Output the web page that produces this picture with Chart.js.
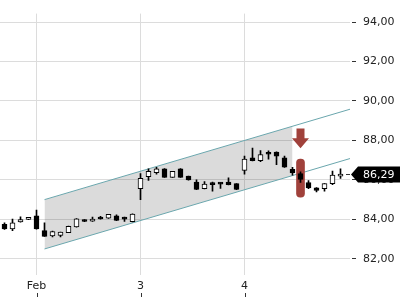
<!DOCTYPE html>
<html lang="en">
<head>
<meta charset="UTF-8">
<title>Candles with channel</title>
<script src="https://cdn.jsdelivr.net/npm/chart.js"></script>
<style>
  html, body { margin: 0; padding: 0; background: #fff; }
  #wrap { width: 400px; height: 300px; }
</style>
</head>
<body>
<div id="wrap"><canvas id="chart"></canvas></div>
<script>
// hourly candles, index 0..42
const opens  = [83.75, 83.51, 83.87, 84.00, 84.18, 83.43, 83.16, 83.19, 83.33, 83.62, 83.98, 83.91, 84.11, 84.06, 84.18, 84.03, 83.88,
                85.55, 86.16, 86.37, 86.56, 86.13, 86.56, 86.19, 85.89, 85.55, 85.77, 85.80, 85.89, 85.81,
                86.48, 87.12, 86.97, 87.32, 87.41, 87.12, 86.53, 86.32, 85.87, 85.60, 85.55, 85.81, 86.19];
const highs  = [83.83, 84.02, 84.13, 84.03, 84.47, 83.83, 83.41, 83.36, 83.66, 84.04, 83.99, 84.11, 84.15, 84.26, 84.23, 84.11, 84.28,
                86.32, 86.56, 86.64, 86.57, 86.44, 86.57, 86.20, 86.00, 85.92, 85.89, 85.87, 86.11, 85.82,
                87.21, 87.61, 87.49, 87.48, 87.42, 87.21, 86.64, 86.41, 85.97, 85.61, 85.82, 86.45, 86.56];
const lows   = [83.49, 83.43, 83.86, 83.99, 83.50, 83.13, 83.11, 83.11, 83.32, 83.61, 83.88, 83.90, 84.01, 84.05, 83.94, 83.89, 83.87,
                85.00, 85.97, 86.29, 86.12, 86.12, 86.12, 85.99, 85.51, 85.54, 85.43, 85.57, 85.75, 85.51,
                86.29, 86.96, 86.93, 87.05, 86.77, 86.63, 86.24, 85.87, 85.55, 85.39, 85.43, 85.76, 86.08];
const closes = [83.51, 83.83, 83.99, 84.02, 83.51, 83.14, 83.38, 83.35, 83.65, 84.03, 83.89, 84.02, 84.02, 84.25, 83.95, 84.01, 84.27,
                86.08, 86.43, 86.56, 86.13, 86.43, 86.13, 86.00, 85.52, 85.79, 85.76, 85.79, 85.76, 85.52,
                87.06, 86.97, 87.29, 87.30, 87.20, 86.64, 86.35, 86.03, 85.60, 85.47, 85.81, 86.24, 86.29];

// x axis: first candle of each day
const dayIndex  = [4, 17, 30];
const dayLabels = ['Feb', '3', '4'];

const priceTicks = [82, 84, 86, 88, 90, 92, 94];

// trend channel: start, end of shading, end of lines
const channelX      = [5, 36, 44];
const channelTop    = [85.00, 88.72, 89.68];
const channelBottom = [82.50, 86.22, 87.18];

// sell signal
const signalIndex = 37;
const signalRange = [85.12, 87.05];
const arrowRange  = [88.60, 87.60];

const signalColor = '#a0413b';
const teal = '#6aa6ad';

const fmt = v => v.toFixed(2).replace('.', ',');

const bodies = opens.map((o, i) => ({ x: i, y: [o, closes[i]] }));
const wicks  = opens.map((o, i) => ({ x: i, y: [lows[i], highs[i]] }));
const bodyColors = opens.map((o, i) => closes[i] >= o ? '#fff' : '#000');

// arrow, x tick marks and last price tag
const extras = {
    id: 'extras',
    afterDatasetsDraw(chart) {
        const { ctx, scales: { x, y } } = chart;
        const px = x.getPixelForValue(signalIndex);
        const yTop = y.getPixelForValue(arrowRange[0]);
        const yTip = y.getPixelForValue(arrowRange[1]);
        ctx.save();
        ctx.fillStyle = signalColor;
        ctx.beginPath();
        ctx.moveTo(px - 4, yTop);
        ctx.lineTo(px + 4, yTop);
        ctx.lineTo(px + 4, yTip - 10);
        ctx.lineTo(px + 8.5, yTip - 10);
        ctx.lineTo(px, yTip);
        ctx.lineTo(px - 8.5, yTip - 10);
        ctx.lineTo(px - 4, yTip - 10);
        ctx.closePath();
        ctx.fill();
        ctx.restore();
    },
    afterDraw(chart) {
        const { ctx, scales: { x, y }, chartArea } = chart;
        ctx.save();
        ctx.strokeStyle = '#333';
        ctx.lineWidth = 1;
        x.ticks.forEach(t => {
            const px = Math.round(x.getPixelForValue(t.value)) + 0.5;
            ctx.beginPath();
            ctx.moveTo(px, chart.height - 7);
            ctx.lineTo(px, chart.height - 3);
            ctx.stroke();
        });

        const last = closes[closes.length - 1];
        const yc = Math.round(y.getPixelForValue(last));
        const r = chartArea.right;
        ctx.beginPath();
        ctx.moveTo(r - 4, yc + 0.5);
        ctx.lineTo(r, yc + 0.5);
        ctx.stroke();

        ctx.fillStyle = '#000';
        ctx.beginPath();
        ctx.moveTo(r + 1, yc + 0.5);
        ctx.lineTo(r + 8, yc - 7.5);
        ctx.lineTo(chart.width, yc - 7.5);
        ctx.lineTo(chart.width, yc + 8.5);
        ctx.lineTo(r + 8, yc + 8.5);
        ctx.closePath();
        ctx.fill();
        ctx.fillStyle = '#fff';
        ctx.font = '11px "DejaVu Sans"';
        ctx.textBaseline = 'middle';
        ctx.fillText(fmt(last), r + 13, yc + 1);
        ctx.restore();
    }
};

Chart.defaults.font.family = '"DejaVu Sans", sans-serif';
Chart.defaults.font.size = 11;

new Chart(document.getElementById('chart'), {
    type: 'bar',
    data: {
        datasets: [
            { type: 'line', data: channelX.slice(0, 2).map((v, k) => ({ x: v, y: channelTop[k] })),
              borderWidth: 0, pointRadius: 0, order: 10 },
            { type: 'line', data: channelX.slice(0, 2).map((v, k) => ({ x: v, y: channelBottom[k] })),
              borderWidth: 0, pointRadius: 0, fill: '-1', backgroundColor: 'rgba(0,0,0,0.14)', order: 10 },
            { type: 'line', data: [{ x: channelX[0], y: channelTop[0] }, { x: channelX[2], y: channelTop[2] }],
              borderColor: teal, borderWidth: 1, pointRadius: 0, order: 9 },
            { type: 'line', data: [{ x: channelX[0], y: channelBottom[0] }, { x: channelX[2], y: channelBottom[2] }],
              borderColor: teal, borderWidth: 1, pointRadius: 0, order: 9 },
            { data: [{ x: signalIndex, y: signalRange }], backgroundColor: signalColor,
              barThickness: 8, borderRadius: 4, borderSkipped: false, order: 5 },
            { data: wicks, backgroundColor: '#000', barThickness: 1, order: 2 },
            { data: bodies, backgroundColor: bodyColors, borderColor: '#000', borderWidth: 1,
              borderSkipped: false, barThickness: 5, minBarLength: 2, order: 1 }
        ]
    },
    options: {
        responsive: true,
        maintainAspectRatio: false,
        animation: false,
        layout: { padding: 0 },
        datasets: { bar: { grouped: false } },
        plugins: { legend: { display: false }, tooltip: { enabled: false } },
        scales: {
            x: {
                type: 'linear',
                min: -0.5625,
                max: 43.1875,
                offset: false,
                afterBuildTicks: s => { s.ticks = dayIndex.map(v => ({ value: v })); },
                afterFit: s => { s.height = 25; },
                ticks: { callback: (v, i) => dayLabels[i], padding: 5, maxRotation: 0, autoSkip: false, color: '#222' },
                grid: { color: '#dcdcdc', drawTicks: false, offset: false },
                border: { display: false }
            },
            y: {
                position: 'right',
                min: 81.18,
                max: 94.43,
                afterBuildTicks: s => { s.ticks = priceTicks.map(v => ({ value: v })); },
                afterFit: s => { s.width = 50; },
                ticks: { callback: v => fmt(v), padding: 7, color: '#222' },
                grid: { color: '#dcdcdc', tickColor: '#333', tickLength: 6, tickBorderDash: [0, 2, 4, 10] },
                border: { display: false }
            }
        }
    },
    plugins: [extras]
});
</script>
</body>
</html>
